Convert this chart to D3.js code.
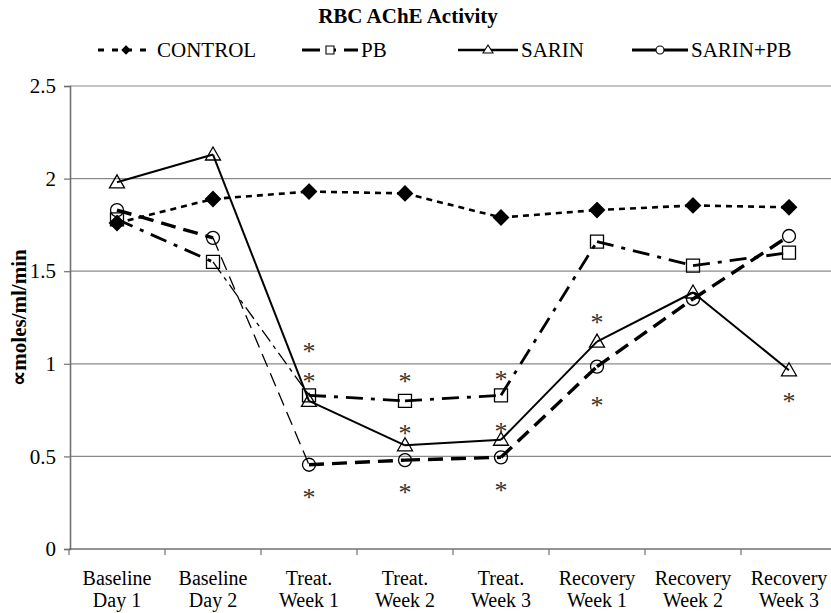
<!DOCTYPE html>
<html>
<head>
<meta charset="utf-8">
<script src="https://cdn.jsdelivr.net/npm/d3@7"></script>
<style>
  body { margin: 0; background: #fff; }
</style>
</head>
<body>
<div id="chart"></div>
<script>
// categories and values
var categories = ["Baseline Day 1", "Baseline Day 2", "Treat. Week 1", "Treat. Week 2",
                  "Treat. Week 3", "Recovery Week 1", "Recovery Week 2", "Recovery Week 3"];
var control = [1.76, 1.89, 1.93, 1.92, 1.79, 1.83, 1.855, 1.845];
var pb      = [1.78, 1.55, 0.83, 0.80, 0.83, 1.66, 1.53, 1.60];
var sarin   = [1.98, 2.13, 0.80, 0.56, 0.59, 1.12, 1.385, 0.965];
var sarinPb = [1.83, 1.68, 0.455, 0.48, 0.495, 0.985, 1.35, 1.69];
var yTicks  = [0, 0.5, 1, 1.5, 2, 2.5];

// significance asterisks
var starCats   = ["Treat. Week 1", "Treat. Week 1", "Treat. Week 1",
                  "Treat. Week 2", "Treat. Week 2", "Treat. Week 2",
                  "Treat. Week 3", "Treat. Week 3", "Treat. Week 3",
                  "Recovery Week 1", "Recovery Week 1", "Recovery Week 3"];
var starValues = [1.09, 0.93, 0.30, 0.93, 0.65, 0.33, 0.94, 0.66, 0.34, 1.25, 0.80, 0.82];

var width = 831, height = 613,
    font = "'Liberation Serif'";

var svg = d3.select("#chart").append("svg")
    .attr("width", width).attr("height", height);

var x = d3.scaleBand().domain(categories).range([69, 837]);
var y = d3.scaleLinear().domain([0, 2.5]).range([549, 86]);
function cx(c) { return x(c) + x.bandwidth() / 2; }

// title
svg.append("text").attr("x", 408).attr("y", 23)
    .attr("text-anchor", "middle").attr("font-weight", "bold").attr("font-size", 21)
    .text("RBC  AChE Activity");

// gridlines
svg.append("g").selectAll("line").data(yTicks.filter(function(t){ return t > 0; }))
    .enter().append("line")
    .attr("x1", 70).attr("x2", width)
    .attr("y1", function(d){ return y(d); }).attr("y2", function(d){ return y(d); })
    .attr("stroke", "#8a8a8a").attr("stroke-width", 1.2);

// y axis
var yAxis = svg.append("g").attr("transform", "translate(70,0)")
    .call(d3.axisLeft(y).tickValues(yTicks).tickSize(6).tickPadding(8).tickFormat(d3.format("")));
yAxis.select(".domain").attr("stroke", "#707070").attr("stroke-width", 1.6);
yAxis.selectAll(".tick line").attr("stroke", "#707070").attr("stroke-width", 1.2);
yAxis.selectAll(".tick text").attr("font-size", 21).attr("fill", "#000");

// x axis
svg.append("line").attr("x1", 69).attr("x2", width).attr("y1", y(0)).attr("y2", y(0))
    .attr("stroke", "#707070").attr("stroke-width", 1.6);
svg.append("g").selectAll("line").data(categories).enter().append("line")
    .attr("x1", function(d){ return x(d); }).attr("x2", function(d){ return x(d); })
    .attr("y1", y(0)).attr("y2", y(0) + 6)
    .attr("stroke", "#707070").attr("stroke-width", 1.2);

var xl = svg.append("g").selectAll("text").data(categories).enter().append("text")
    .attr("text-anchor", "middle").attr("font-size", 20);
xl.append("tspan").attr("x", cx).attr("y", 585)
    .text(function(d){ return d.split(" ")[0]; });
xl.append("tspan").attr("x", cx).attr("y", 607)
    .text(function(d){ return d.split(" ").slice(1).join(" "); });

// y label
svg.append("text")
    .attr("transform", "translate(26," + ((y(0) + y(2.5)) / 2) + ") rotate(-90)")
    .attr("text-anchor", "middle").attr("font-weight", "bold").attr("font-size", 21)
    .text("\u221Dmoles/ml/min");

// series
var series = [
  { name: "CONTROL",  values: control, dash: "6,5",      thinDash: "6,5",       w: 2.6, marker: "diamond",  thin: [] },
  { name: "PB",       values: pb,      dash: "17,8,4,8", thinDash: "14,5,4,5",  w: 2.8, marker: "square",   thin: [1] },
  { name: "SARIN",    values: sarin,   dash: null,       thinDash: null,        w: 2.0, marker: "triangle", thin: [] },
  { name: "SARIN+PB", values: sarinPb, dash: "15,8",     thinDash: "14,7",      w: 3.4, marker: "circle",   thin: [1] }
];

function markerPath(type, s) {
  var h = s / 2;
  if (type === "diamond") return "M0," + (-h) + "L" + h + ",0L0," + h + "L" + (-h) + ",0Z";
  if (type === "square") return "M" + (-h) + "," + (-h) + "h" + s + "v" + s + "h" + (-s) + "Z";
  if (type === "triangle") return "M0," + (-h - 1) + "L" + (h + 1) + "," + (h - 1) + "L" + (-h - 1) + "," + (h - 1) + "Z";
  return d3.symbol().type(d3.symbolCircle).size(Math.PI * h * h)();
}

var plot = svg.append("g");
series.forEach(function(s) {
  var pts = s.values.map(function(v, i){ return [cx(categories[i]), y(v)]; });
  var segs = d3.pairs(pts);
  plot.append("g").selectAll("path").data(segs).enter().append("path")
      .attr("d", function(p){ return d3.line()(p); })
      .attr("fill", "none").attr("stroke", "#000")
      .attr("stroke-width", function(p, i){ return s.thin.indexOf(i) >= 0 ? 1.3 : s.w; })
      .attr("stroke-dasharray", function(p, i){ return s.thin.indexOf(i) >= 0 ? s.thinDash : s.dash; });
  plot.append("g").selectAll("path").data(pts).enter().append("path")
      .attr("transform", function(p){ return "translate(" + p[0] + "," + p[1] + ")"; })
      .attr("d", markerPath(s.marker, s.marker === "diamond" ? 15 : 13))
      .attr("fill", s.marker === "diamond" ? "#000" : "none")
      .attr("stroke", "#000").attr("stroke-width", 1.3);
});

// asterisks
svg.append("g").selectAll("text").data(starValues).enter().append("text")
    .attr("x", function(d, i){ return cx(starCats[i]); })
    .attr("y", function(d){ return y(d) + 13; })
    .attr("text-anchor", "middle").attr("font-size", 26).attr("fill", "#333")
    .text("*");

// legend
var legX = [98, 302, 458, 632];
var legLen = [56, 56, 60, 56];
var leg = svg.append("g").selectAll("g").data(series).enter().append("g")
    .attr("transform", function(d, i){ return "translate(" + legX[i] + ",50)"; });
leg.append("line").attr("x1", 0).attr("x2", function(d, i){ return legLen[i]; })
    .attr("stroke", "#000").attr("stroke-width", function(d){ return d.marker === "triangle" ? 2.4 : 3; })
    .attr("stroke-dasharray", function(d){ return d.marker === "diamond" ? "6,8" : d.marker === "square" ? "18,8,8,8" : null; });
leg.append("path")
    .attr("transform", function(d, i){ return "translate(" + (legLen[i] / 2) + ",0)"; })
    .attr("d", function(d){ return markerPath(d.marker, 8); })
    .attr("fill", function(d){ return d.marker === "diamond" ? "#000" : "#fff"; })
    .attr("stroke", "#000").attr("stroke-width", 1.1);
leg.append("text").attr("x", function(d, i){ return legLen[i] + 3; }).attr("y", 7)
    .attr("font-size", 21).text(function(d){ return d.name; });

svg.selectAll("text").style("font-family", font);
</script>
</body>
</html>
